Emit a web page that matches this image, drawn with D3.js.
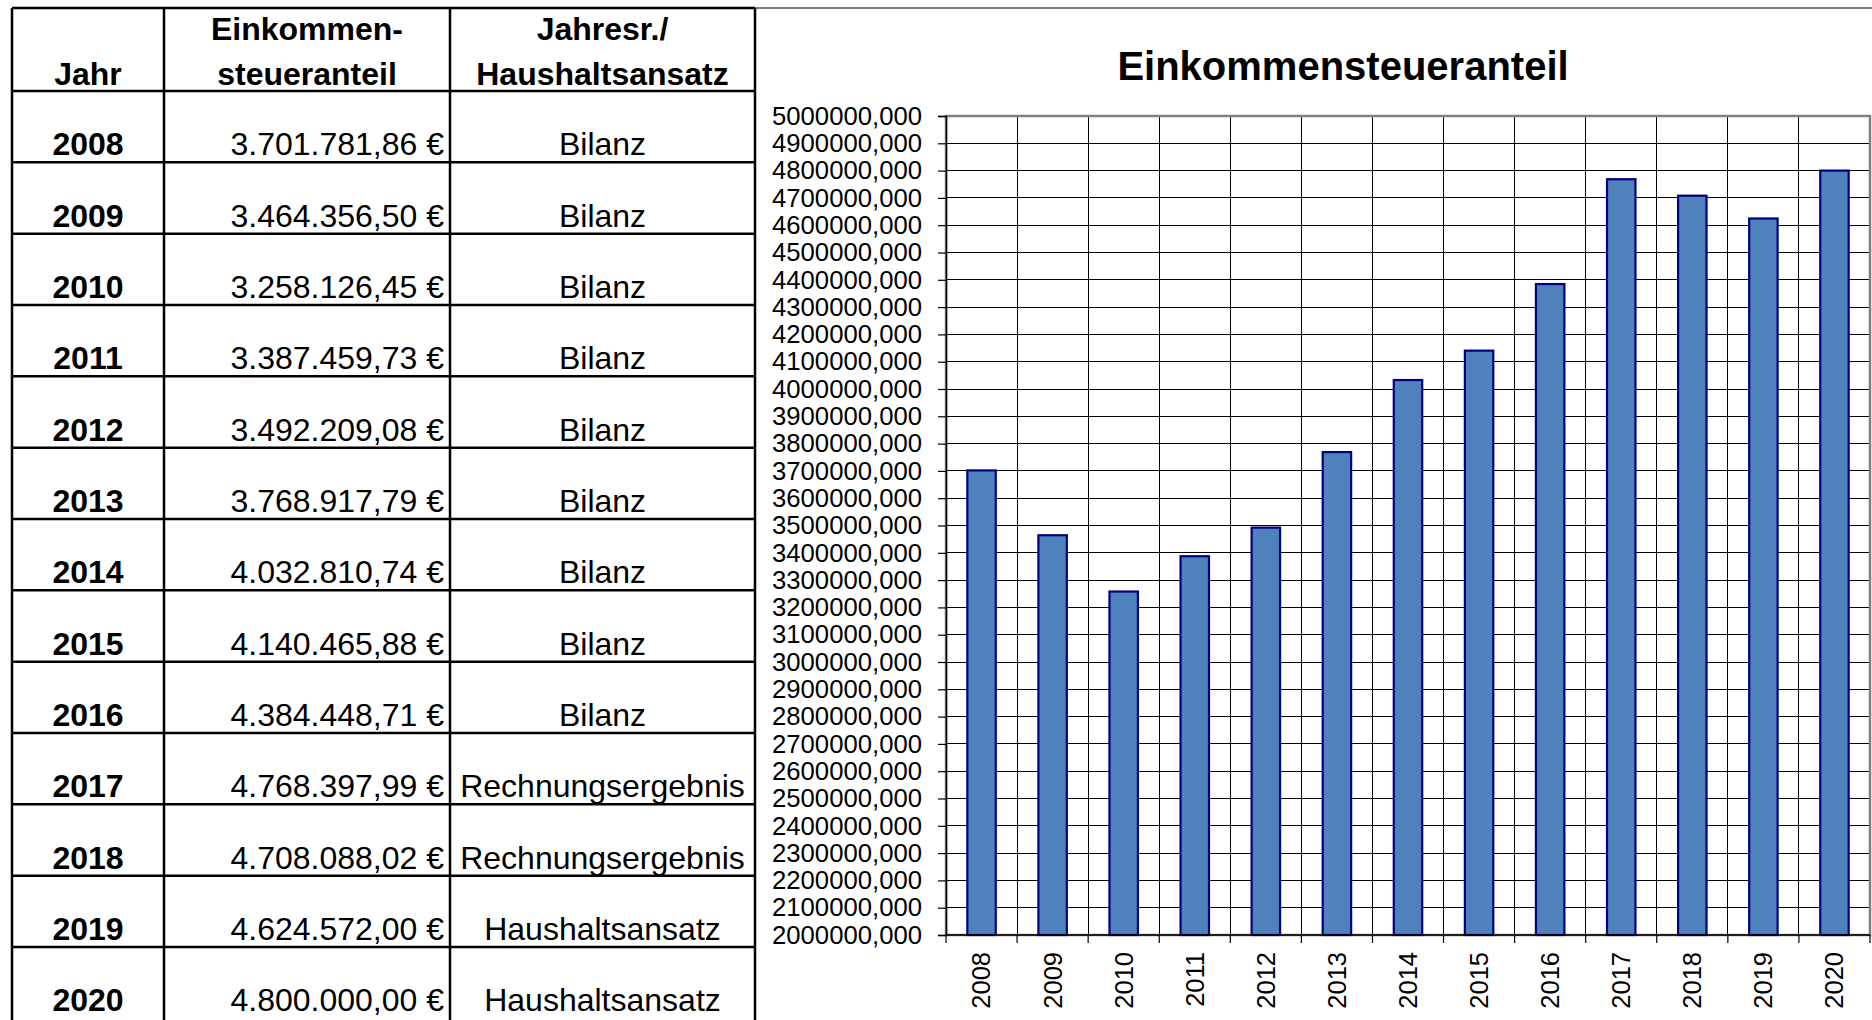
<!DOCTYPE html>
<html>
<head>
<meta charset="utf-8">
<script src="https://cdn.jsdelivr.net/npm/d3@7"></script>
<style>
  body { margin: 0; background: #fff; }
  svg { display: block; font-family: "Liberation Sans", Arial, sans-serif; }
</style>
</head>
<body>
<div id="chart"></div>
<script>
// Einkommensteueranteil: Tabelle links, Säulendiagramm rechts
const years = ['2008', '2009', '2010', '2011', '2012', '2013', '2014', '2015', '2016', '2017', '2018', '2019', '2020'];
const values = [3701781.86, 3464356.50, 3258126.45, 3387459.73, 3492209.08, 3768917.79, 4032810.74,
                4140465.88, 4384448.71, 4768397.99, 4708088.02, 4624572.00, 4800000.00];
const sources = ['Bilanz', 'Bilanz', 'Bilanz', 'Bilanz', 'Bilanz', 'Bilanz', 'Bilanz', 'Bilanz', 'Bilanz',
                 'Rechnungsergebnis', 'Rechnungsergebnis', 'Haushaltsansatz', 'Haushaltsansatz'];
const headers = [['', 'Jahr'], ['Einkommen-', 'steueranteil'], ['Jahresr./', 'Haushaltsansatz']];
const title = 'Einkommensteueranteil';
const yDomain = [2000000, 5000000];

const width = 1872;
const height = 1020;

const svg = d3.select('#chart').append('svg')
  .attr('width', width)
  .attr('height', height);

// Formate
const de = d3.formatLocale({decimal: ',', thousands: '.', grouping: [3], currency: ['', ' €']});
const money = v => de.format(',.2f')(v) + ' €';
const axisFmt = d3.formatLocale({decimal: ',', thousands: '', grouping: [3], currency: ['', '']}).format('.3f');

// ---------- Diagramm ----------
const plot = {left: 946, right: 1870, top: 116, bottom: 935};

// äußerer Diagrammrahmen
svg.append('rect')
  .attr('x', 755).attr('y', 8)
  .attr('width', 1200).attr('height', 1100)
  .attr('fill', 'none')
  .attr('stroke', '#808080')
  .attr('stroke-width', 2);

svg.append('text')
  .attr('x', 1343).attr('y', 80)
  .attr('text-anchor', 'middle')
  .style('font-size', '40px')
  .style('font-weight', 'bold')
  .text(title);

const x = d3.scaleBand()
  .domain(years)
  .range([plot.left, plot.right])
  .paddingInner(0.6)
  .paddingOuter(0.3);

const y = d3.scaleLinear()
  .domain(yDomain)
  .range([plot.bottom, plot.top]);

const step = x.step();
const bounds = years.map(d => x(d) - x.paddingOuter() * step).concat([plot.right]);

// Gitternetz
const grid = svg.append('g')
  .attr('stroke', '#000')
  .attr('stroke-width', 1)
  .attr('shape-rendering', 'crispEdges');

grid.selectAll('line.h').data(y.ticks(30)).enter().append('line')
  .attr('class', 'h')
  .attr('x1', plot.left).attr('x2', plot.right)
  .attr('y1', d => y(d)).attr('y2', d => y(d));

grid.selectAll('line.v').data(bounds).enter().append('line')
  .attr('class', 'v')
  .attr('x1', d => d).attr('x2', d => d)
  .attr('y1', plot.top).attr('y2', plot.bottom);

// Zeichnungsfläche
svg.append('rect')
  .attr('x', plot.left).attr('y', plot.top)
  .attr('width', plot.right - plot.left)
  .attr('height', plot.bottom - plot.top)
  .attr('fill', 'none')
  .attr('stroke', '#808080')
  .attr('stroke-width', 2.5);

// Säulen
svg.append('g')
  .selectAll('rect').data(years).enter().append('rect')
  .attr('x', d => x(d))
  .attr('y', (d, i) => y(values[i]))
  .attr('width', x.bandwidth())
  .attr('height', (d, i) => y(yDomain[0]) - y(values[i]))
  .attr('fill', '#4F81BD')
  .attr('stroke', '#000080')
  .attr('stroke-width', 2.2);

// y-Achse
const yAxis = g => g
  .attr('transform', `translate(${plot.left}, 0)`)
  .call(d3.axisLeft(y).tickValues(y.ticks(30)).tickSize(8).tickPadding(16).tickFormat(axisFmt))
  .call(g => g.select('.domain').attr('stroke-width', 1.5))
  .call(g => g.selectAll('.tick line').attr('stroke-width', 1.2))
  .call(g => g.selectAll('text')
    .style('font-size', '25.7px')
    .style('font-family', '"Liberation Sans", Arial, sans-serif')
    .attr('fill', '#000'));

svg.append('g').call(yAxis);

// x-Achse
const xAxis = svg.append('g');
xAxis.append('line')
  .attr('x1', plot.left).attr('x2', plot.right)
  .attr('y1', plot.bottom).attr('y2', plot.bottom)
  .attr('stroke', '#000').attr('stroke-width', 1.5);
xAxis.selectAll('line.tick').data(bounds).enter().append('line')
  .attr('class', 'tick')
  .attr('x1', d => d).attr('x2', d => d)
  .attr('y1', plot.bottom).attr('y2', plot.bottom + 8)
  .attr('stroke', '#000').attr('stroke-width', 1.2);
xAxis.selectAll('text').data(years).enter().append('text')
  .attr('transform', d => `translate(${x(d) + x.bandwidth() / 2}, ${plot.bottom + 17}) rotate(-90)`)
  .attr('text-anchor', 'end')
  .attr('dy', '0.35em')
  .style('font-size', '25.5px')
  .text(d => d);

// ---------- Tabelle ----------
const cols = [12, 164, 450, 755];
const headerTop = 8;
const headerBottom = 91;
const rowH = 71.33;

const row = d3.scaleBand()
  .domain(years)
  .range([headerBottom, headerBottom + rowH * years.length]);

const table = svg.append('g');

// Hintergrund der Tabelle
table.append('rect')
  .attr('x', cols[0]).attr('y', headerTop)
  .attr('width', cols[3] - cols[0]).attr('height', height)
  .attr('fill', '#fff');

// Kopfzeile
headers.forEach((lines, c) => {
  const cx = (cols[c] + cols[c + 1]) / 2;
  lines.forEach((t, k) => {
    table.append('text')
      .attr('x', cx)
      .attr('y', k === 0 ? 40 : 85)
      .attr('text-anchor', 'middle')
      .style('font-size', '32px')
      .style('font-weight', 'bold')
      .text(t);
  });
});

// Datenzeilen
const rows = table.selectAll('g.row').data(years).enter().append('g')
  .attr('class', 'row')
  .attr('transform', d => `translate(0, ${row(d) + row.bandwidth() - 7})`);

rows.append('text')
  .attr('x', (cols[0] + cols[1]) / 2)
  .attr('text-anchor', 'middle')
  .style('font-size', '32px')
  .style('font-weight', 'bold')
  .text(d => d);

rows.append('text')
  .attr('x', cols[2] - 6)
  .attr('text-anchor', 'end')
  .style('font-size', '32px')
  .text((d, i) => money(values[i]));

rows.append('text')
  .attr('x', (cols[2] + cols[3]) / 2)
  .attr('text-anchor', 'middle')
  .style('font-size', '32px')
  .text((d, i) => sources[i]);

// Tabellenlinien
const tl = table.append('g')
  .attr('stroke', '#000')
  .attr('stroke-width', 2.5);

tl.selectAll('line.c').data(cols).enter().append('line')
  .attr('class', 'c')
  .attr('x1', d => d).attr('x2', d => d)
  .attr('y1', headerTop).attr('y2', height);

tl.selectAll('line.r').data([headerTop].concat(years.map(d => row(d)))).enter().append('line')
  .attr('class', 'r')
  .attr('x1', cols[0]).attr('x2', cols[3])
  .attr('y1', d => d).attr('y2', d => d);
</script>
</body>
</html>
